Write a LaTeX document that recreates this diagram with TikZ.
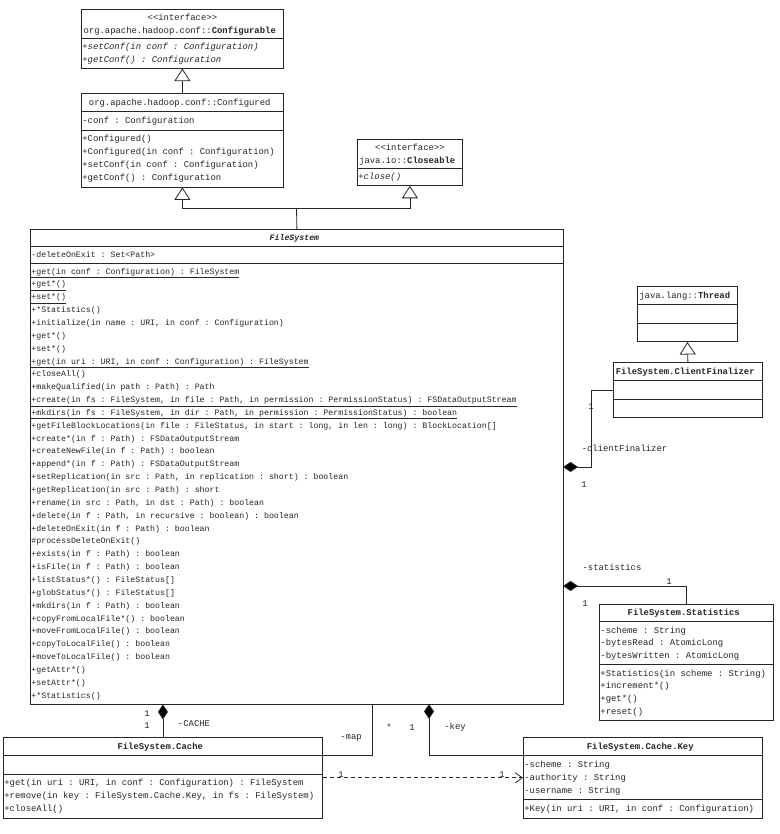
\documentclass[tikz,border=0pt]{standalone}
\usepackage{fontspec}
\setmonofont{Liberation Mono}
\usetikzlibrary{arrows.meta,positioning,shapes.multipart}
\definecolor{umlInk}{RGB}{38, 38, 38}
\newcommand{\umlfont}{\ttfamily\fontsize{8.9pt}{12.8pt}\selectfont}
\newcommand{\fsfont}{\ttfamily\fontsize{8.25pt}{12.85pt}\selectfont}
\newcommand{\umltitle}[1]{\hfill#1\hfill\null}

\begin{document}
\begin{tikzpicture}[
      x=1pt, y=-1pt,
      umlclass/.style={draw=umlInk, line width=0.8pt, rectangle split, rectangle split parts=3,
        anchor=north west, align=flush left, inner xsep=1pt, inner ysep=2.4pt, font=\umlfont, text=umlInk,
        execute at begin node={\spaceskip=0pt\xspaceskip=0pt\strut}, execute at end node=\strut},
      umliface/.style={umlclass, rectangle split parts=2, inner ysep=1.5pt},
      inherit/.style={-{Triangle[open, length=12.5pt, width=16pt]}, line width=0.8pt, draw=umlInk},
      compo/.style={-{Diamond[length=15pt, width=10pt]}, line width=0.8pt, draw=umlInk},
      assoc/.style={line width=0.8pt, draw=umlInk},
      depend/.style={-{Straight Barb[length=7pt, width=10pt]}, dash pattern=on 4pt off 3pt, line width=0.8pt, draw=umlInk},
      lbl/.style={font=\umlfont, text=umlInk, inner sep=0pt}
  ]
      \useasboundingbox (0,0) rectangle (779,834);
      \fill[white] (0,0) rectangle (779,834);

      % hadoop conf classes
      \node[umliface, text width=200pt] (cfgb) at (81,9) {\umltitle{<{}<interface>{}>}\\\umltitle{org.apache.hadoop.conf::\textbf{Configurable}}
        \nodepart{two}\textit{+setConf(in conf : Configuration)}\\
        \textit{+getConf() : Configuration}};
      \node[umlclass, text width=200pt] (cfgd) at (81,93) {\umltitle{org.apache.hadoop.conf::Configured}
        \nodepart{two}-conf : Configuration
        \nodepart{three}+Configured()\\
        +Configured(in conf : Configuration)\\
        +setConf(in conf : Configuration)\\
        +getConf() : Configuration};
      \node[umliface, text width=103pt] (close) at (357,139) {\umltitle{<{}<interface>{}>}\\\umltitle{java.io::\textbf{Closeable}}
        \nodepart{two}\textit{+close()}};

      % FileSystem
      \node[umlclass, font=\fsfont, inner ysep=1.6pt, text width=531pt] (fs) at (30,229) {\umltitle{\textbf{\textit{FileSystem}}}
        \nodepart{two}-deleteOnExit : Set<Path>
        \nodepart{three}\underline{+get(in conf : Configuration) : FileSystem}\\
        \underline{+get*()}\\
        \underline{+set*()}\\
        +*Statistics()\\
        +initialize(in name : URI, in conf : Configuration)\\
        +get*()\\
        +set*()\\
        \underline{+get(in uri : URI, in conf : Configuration) : FileSystem}\\
        +closeAll()\\
        +makeQualified(in path : Path) : Path\\
        \underline{+create(in fs : FileSystem, in file : Path, in permission : PermissionStatus) : FSDataOutputStream}\\
        \underline{+mkdirs(in fs : FileSystem, in dir : Path, in permission : PermissionStatus) : boolean}\\
        +getFileBlockLocations(in file : FileStatus, in start : long, in len : long) : BlockLocation[]\\
        +create*(in f : Path) : FSDataOutputStream\\
        +createNewFile(in f : Path) : boolean\\
        +append*(in f : Path) : FSDataOutputStream\\
        +setReplication(in src : Path, in replication : short) : boolean\\
        +getReplication(in src : Path) : short\\
        +rename(in src : Path, in dst : Path) : boolean\\
        +delete(in f : Path, in recursive : boolean) : boolean\\
        +deleteOnExit(in f : Path) : boolean\\
        \#processDeleteOnExit()\\
        +exists(in f : Path) : boolean\\
        +isFile(in f : Path) : boolean\\
        +listStatus*() : FileStatus[]\\
        +globStatus*() : FileStatus[]\\
        +mkdirs(in f : Path) : boolean\\
        +copyFromLocalFile*() : boolean\\
        +moveFromLocalFile() : boolean\\
        +copyToLocalFile() : boolean\\
        +moveToLocalFile() : boolean\\
        +getAttr*()\\
        +setAttr*()\\
        +*Statistics()};

      % inner classes
      \node[umlclass, text width=98pt] (thread) at (637,286) {\umltitle{java.lang::\textbf{Thread}}
        \nodepart{two}\nodepart{three}};
      \node[umlclass, text width=147pt] (fin) at (613,362) {\umltitle{\textbf{FileSystem.ClientFinalizer}}
        \nodepart{two}\nodepart{three}};
      \node[umlclass, inner ysep=1.9pt, text width=172pt] (stats) at (599,604) {\umltitle{\textbf{FileSystem.Statistics}}
        \nodepart{two}-scheme : String\\
        -bytesRead : AtomicLong\\
        -bytesWritten : AtomicLong
        \nodepart{three}+Statistics(in scheme : String)\\
        +increment*()\\
        +get*()\\
        +reset()};
      \node[umlclass, text width=317pt] (cache) at (3,737) {\umltitle{\textbf{FileSystem.Cache}}
        \nodepart{two}
        \nodepart{three}+get(in uri : URI, in conf : Configuration) : FileSystem\\
        +remove(in key : FileSystem.Cache.Key, in fs : FileSystem)\\
        +closeAll()};
      \node[umlclass, text width=237pt] (key) at (523,737) {\umltitle{\textbf{FileSystem.Cache.Key}}
        \nodepart{two}-scheme : String\\
        -authority : String\\
        -username : String
        \nodepart{three}+Key(in uri : URI, in conf : Configuration)};

      % generalizations
      \coordinate (join) at (296.5,208);
      \draw[inherit] (cfgd.north) -- (cfgb.south);
      \draw[assoc] (fs.north) -- (join);
      \draw[inherit] (join) -| (cfgd.south);
      \draw[inherit] (join) -| (close.south);
      \draw[inherit] (fin.north) -- (thread.south);

      % compositions
      \coordinate (fintail) at (563,467);
      \coordinate (sttail) at (563,586);
      \coordinate (keytop) at (429,704);
      \coordinate (maptop) at (372,704);
      \draw[compo] (fin.west) -- ++(-22,0) |- (fintail);
      \draw[compo] (stats.north) |- (sttail);
      \draw[compo] (cache.north) -- (cache.north |- fs.south);
      \draw[compo] (key.text split west) -| (keytop);
      \draw[assoc] (cache.text split east) -| (maptop);
      \draw[depend] (cache.east) -- (key.west);

      % role names and multiplicities
      \node[lbl] (mfin) at (591,407) {1};
      \node[lbl] (rfin) at (624.5,448) {-clientFinalizer};
      \node[lbl] (mfs1) at (584,485) {1};
      \node[lbl] (rstat) at (612,567) {-statistics};
      \node[lbl] (mstat) at (669,582) {1};
      \node[lbl] (mfs2) at (585,604) {1};
      \node[lbl] (mfs3) at (147,714) {1};
      \node[lbl] (mcache) at (147,726) {1};
      \node[lbl] (rcache) at (194,724) {-CACHE};
      \node[lbl] (rmap) at (351,738) {-map};
      \node[lbl] (mmap) at (389,727) {*};
      \node[lbl] (mkey) at (412,728) {1};
      \node[lbl] (rkey) at (455,727) {-key};
      \node[lbl] (mdep1) at (341,775) {1};
      \node[lbl] (mdep2) at (502,775) {1};
  \end{tikzpicture}
\end{document}
